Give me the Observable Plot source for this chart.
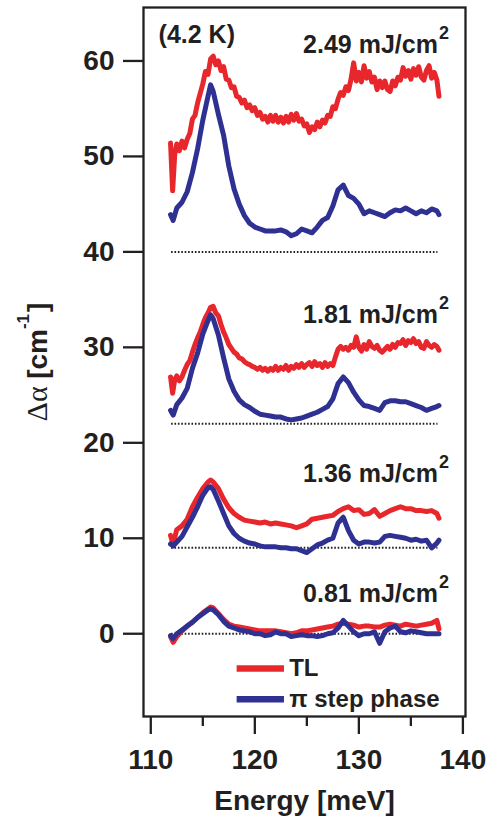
<!DOCTYPE html>
<html><head><meta charset="utf-8">
<script src="https://cdn.jsdelivr.net/npm/d3@7"></script>
<script src="https://cdn.jsdelivr.net/npm/@observablehq/plot@0.6"></script>
<style>body{margin:0;background:#fff} svg{display:block}</style>
</head><body><div id="chart"></div>
<script>
// Energy grid (meV) for the smoother curves
const energy = [111.9, 112.15,
  112.5, 113, 113.5, 114, 114.5, 115, 115.5, 115.75, 116,
  116.5, 117, 117.5, 118,  118.5, 119, 119.5, 120,  120.5, 121, 121.5, 122,
  122.5, 123, 123.5, 124,  124.5, 125, 125.5, 126,  126.5, 127, 127.5, 128,
  128.5, 129, 129.5, 130,  130.5, 131, 131.5, 132,  132.5, 133, 133.5, 134,
  134.5, 135, 135.5, 136,  136.5, 137, 137.5,  137.7];

// Finer energy grid (meV) for the noisy TL curves
const energyFine = [111.9, 112.1, 112.3,
  112.5, 112.75,
  113, 113.25, 113.5, 113.75,  114, 114.25, 114.5, 114.75,
  115, 115.25, 115.5, 115.75,  116, 116.25, 116.5, 116.75,
  117, 117.25, 117.5, 117.75,  118, 118.25, 118.5, 118.75,
  119, 119.25, 119.5, 119.75,  120, 120.25, 120.5, 120.75,
  121, 121.25, 121.5, 121.75,  122, 122.25, 122.5, 122.75,
  123, 123.25, 123.5, 123.75,  124, 124.25, 124.5, 124.75,
  125, 125.25, 125.5, 125.75,  126, 126.25, 126.5, 126.75,
  127, 127.25, 127.5, 127.75,  128, 128.25, 128.5, 128.75,
  129, 129.25, 129.5, 129.75,  130, 130.25, 130.5, 130.75,
  131, 131.25, 131.5, 131.75,  132, 132.25, 132.5, 132.75,
  133, 133.25, 133.5, 133.75,  134, 134.25, 134.5, 134.75,
  135, 135.25, 135.5, 135.75,  136, 136.25, 136.5, 136.75,
  137, 137.25, 137.5,
  137.7];

// 2.49 mJ/cm2 (offset +40) — TL on the fine grid
const tl249 = [51.4, 46.4, 50.2,
  51.3, 50.6,
  51.6, 50.9, 51.8, 52.4,  53.9, 54.3, 55.6, 56.6,
  57.6, 58.9, 58.6, 60.2,  60.5, 59.6, 60.0, 59.0,
  59.4, 58.1, 58.0, 57.2,  57.3, 56.3, 56.2, 55.6,
  55.9, 55.1, 55.4, 54.8,  55.1, 54.3, 54.6, 53.9,
  54.2, 53.6, 54.3, 53.7,  54.3, 53.6, 54.1, 53.5,
  54.2, 53.6, 54.4, 53.8,  54.5, 53.7, 53.9, 53.2,
  53.4, 52.5, 53.1, 52.8,  53.6, 53.1, 53.8, 53.5,
  54.3, 54.2, 55.2, 55.0,  56.0, 56.7, 56.4, 57.3,
  56.9, 58.1, 59.8, 57.9,  58.8, 57.8, 59.5, 58.2,
  58.9, 57.8, 58.3, 57.0,  57.9, 57.2, 57.9, 57.0,
  56.8, 57.9, 57.4, 58.3,  58.0, 59.3, 58.4, 59.0,
  58.1, 59.2, 58.5, 59.4,  58.3, 58.0, 59.0, 59.5,
  58.2, 58.8, 58.0,
  56.3];
const pi249 = [43.9, 43.3,
  44.6, 45.2, 46.3, 48.3, 50.8, 53.8, 56.3, 57.5, 56.8,
  54.4, 52.2, 49.0, 46.6,  45.0, 43.8, 43.0, 42.6,  42.4, 42.2, 42.2, 42.2,
  42.3, 42.1, 41.7, 41.9,  42.4, 42.2, 42.0, 42.6,  43.3, 43.6, 44.8, 46.5,
  47.0, 45.9, 45.6, 45.0,  44.0, 44.3, 44.1, 43.9,  43.7, 44.1, 44.4, 44.3,
  44.6, 44.3, 44.0, 44.3,  44.1, 44.5, 44.3,  43.9];

// 1.81 mJ/cm2 (offset +22) — TL on the fine grid
const tl181 = [26.9, 25.2, 26.6,
  27.0, 26.5,
  26.9, 27.6, 28.2, 28.6,  29.5, 30.3, 31.0, 31.6,
  32.4, 33.1, 33.6, 34.2,  34.3, 33.6, 33.3, 32.4,
  31.6, 31.0, 30.3, 29.9,  29.5, 29.3, 28.9, 28.8,
  28.5, 28.3, 28.2, 28.0,  27.9, 27.7, 27.9, 27.6,
  27.8, 27.5, 27.8, 27.6,  28.0, 27.6, 27.9, 27.7,
  28.1, 27.6, 28.0, 27.8,  28.2, 27.9, 28.3, 27.9,
  28.2, 28.4, 28.0, 28.5,  28.1, 28.3, 27.9, 28.4,
  28.0, 28.3, 28.1, 29.0,  29.8, 30.1, 29.8, 30.0,
  29.7, 30.2, 30.0, 31.1,  30.0, 29.6, 30.3, 29.8,
  30.6, 30.1, 29.9, 30.2,  29.7, 29.5, 29.8, 30.1,
  29.8, 30.3, 30.0, 30.5,  30.4, 30.8, 30.2, 30.7,
  30.5, 30.9, 30.4, 30.6,  30.0, 29.9, 30.6, 30.2,
  30.0, 30.3, 30.1,
  29.7];
const pi181 = [23.4, 22.9,
  24.0, 24.7, 25.7, 27.8, 29.4, 31.4, 32.8, 33.4, 33.0,
  31.3, 28.9, 26.7, 25.4,  24.5, 24.0, 23.7, 23.3,  23.0, 22.9, 22.8, 22.7,
  22.7, 22.5, 22.4, 22.5,  22.6, 22.8, 23.0, 23.2,  23.5, 23.8, 24.6, 26.2,
  26.9, 26.3, 25.3, 24.5,  23.9, 23.8, 23.6, 23.4,  24.2, 24.4, 24.4, 24.3,
  24.3, 24.1, 23.9, 23.7,  23.4, 23.6, 23.8,  23.9];

// 1.36 mJ/cm2 (offset +9)
const tl136 = [10.3, 9.4,
  10.9, 11.3, 12.0, 13.3, 14.3, 15.2, 15.9, 16.1, 15.9,
  15.2, 14.1, 13.2, 12.6,  12.2, 11.9, 11.8, 11.7,  11.6, 11.7, 11.5, 11.6,
  11.5, 11.4, 11.3, 11.1,  11.3, 11.5, 12.0, 12.1,  12.2, 12.3, 12.4, 12.8,
  13.1, 13.3, 12.9, 13.0,  12.5, 12.6, 13.0, 12.3,  12.6, 12.9, 13.1, 13.3,
  13.1, 13.1, 12.9, 12.9,  12.8, 12.9, 12.6,  12.1];
const pi136 = [9.4, 9.2,
  9.6, 10.2, 11.2, 12.2, 13.3, 14.5, 15.3, 15.4, 15.1,
  13.9, 12.6, 11.3, 10.5,  10.0, 9.7, 9.5, 9.4,  9.2, 9.1, 9.1, 9.1,
  9.0, 9.0, 8.9, 8.9,  8.7, 8.5, 8.9, 9.3,  9.5, 9.8, 10.0, 11.6,
  12.2, 10.8, 9.8, 9.4,  9.6, 9.6, 9.5, 9.6,  10.2, 10.3, 10.2, 10.1,
  10.0, 9.8, 9.9, 9.7,  9.8, 9.0, 9.5,  9.8];

// 0.81 mJ/cm2 (no offset)
const tl081 = [-0.3, -0.9,
  -0.3, 0.3, 0.8, 1.2, 1.7, 2.2, 2.6, 2.8, 2.7,
  2.1, 1.5, 1.0, 0.8,  0.7, 0.6, 0.5, 0.4,  0.3, 0.3, 0.3, 0.3,
  0.2, 0.1, 0.0, 0.1,  0.3, 0.3, 0.4, 0.5,  0.6, 0.7, 0.8, 1.0,
  1.1, 1.0, 0.9, 0.7,  0.8, 0.8, 0.7, 0.7,  0.9, 1.0, 0.9, 0.8,
  1.0, 0.9, 0.8, 0.9,  1.0, 1.1, 1.4,  0.5];
const pi081 = [-0.2, -0.5,
  0.0, 0.4, 0.8, 1.2, 1.7, 2.1, 2.5, 2.6, 2.5,
  2.0, 1.3, 0.8, 0.6,  0.4, 0.3, 0.2, 0.0,  0.0, -0.2, -0.1, 0.2,
  0.0, 0.0, -0.3, -0.2,  -0.1, -0.2, -0.2, -0.3,  -0.2, 0.0, 0.1, 0.6,
  1.4, 0.8, 0.2, -0.2,  0.0, 0.0, 0.2, -1.0,  0.2, 0.6, 0.8, 0.2,
  0.1, 0.3, 0.2, 0.1,  0.0, 0.0, 0.0,  0.0];

// Zero lines of the offset curves
const baselineLevels = [40, 22, 9, 0];
const baselineFrom = 112, baselineTo = 137.6;

// Annotations
const fluenceLabels = ["2.49 mJ/cm", "1.81 mJ/cm", "1.36 mJ/cm", "0.81 mJ/cm"];
const fluenceLevels = [60.8, 32.6, 15.9, 3.3];
const fluenceEnergy = 137.6;
const tempLabel = "(4.2 K)";
const tempAt = [110.75, 61.9];

// Legend
const legendNames = ["TL", "π step phase"];
const legendLevels = [-3.64, -6.85];
const legendFrom = 118.3, legendTo = 122.85, legendTextAt = 123.3;

// Axes
const xMajorTicks = [110, 120, 130, 140];
const xMinorTicks = [115, 125, 135];
const yTicks = [0, 10, 20, 30, 40, 50, 60];

const RED = "#e8272c", BLUE = "#2e3192", INK = "#231f20";
const FONT = "'Liberation Sans', Arial, Helvetica, sans-serif";

const tlSets = [[energyFine, tl249], [energyFine, tl181], [energy, tl136], [energy, tl081]];
const piSets = [[energy, pi249], [energy, pi181], [energy, pi136], [energy, pi081]];
const toRows = sets => sets.flatMap(([xs, vs], k) => xs.map((e, i) => ({e, v: vs[i], panel: k})));
const tlRows = toRows(tlSets), piRows = toRows(piSets);

const chart = Plot.plot({
  width: 489, height: 819,
  marginLeft: 143, marginRight: 24, marginTop: 7, marginBottom: 103,
  style: {fontFamily: FONT, fontWeight: "bold", color: INK, background: "#fff"},
  x: {domain: [109.3, 140.25]},
  y: {domain: [-8.67, 65.6]},
  marks: [
    Plot.ruleY(baselineLevels, {x1: baselineFrom, x2: baselineTo, stroke: INK, strokeWidth: 2, strokeDasharray: "1.6,1.8"}),
    Plot.line(tlRows, {x: "e", y: "v", z: "panel", stroke: RED, strokeWidth: 5, strokeLinejoin: "round"}),
    Plot.line(piRows, {x: "e", y: "v", z: "panel", stroke: BLUE, strokeWidth: 5, strokeLinejoin: "round"}),
    Plot.text(fluenceLabels, {x: fluenceEnergy, y: (d, i) => fluenceLevels[i], text: d => d, textAnchor: "end", lineAnchor: "bottom", fontSize: 25, fontWeight: "bold", fill: INK}),
    Plot.text(fluenceLabels, {x: fluenceEnergy, y: (d, i) => fluenceLevels[i], text: () => "2", textAnchor: "start", lineAnchor: "bottom", dx: 1, dy: -14, fontSize: 18, fontWeight: "bold", fill: INK}),
    Plot.text([tempLabel], {x: tempAt[0], y: tempAt[1], text: d => d, textAnchor: "start", lineAnchor: "bottom", fontSize: 25, fontWeight: "bold", fill: INK}),
    Plot.ruleY([legendLevels[0]], {x1: legendFrom, x2: legendTo, stroke: RED, strokeWidth: 6.5}),
    Plot.ruleY([legendLevels[1]], {x1: legendFrom, x2: legendTo, stroke: BLUE, strokeWidth: 6.5}),
    Plot.text(legendNames, {x: legendTextAt, y: (d, i) => legendLevels[i], text: d => d, textAnchor: "start", lineAnchor: "middle", fontSize: 24, fontWeight: "bold", fill: INK}),
    Plot.frame({stroke: INK, strokeWidth: 2.3}),
    Plot.axisY({ticks: yTicks, tickSize: 20, tickPadding: 9, fontSize: 28, fontWeight: "bold", strokeWidth: 2.3, label: null, fill: INK}),
    Plot.axisX({ticks: xMajorTicks, tickSize: 18, tickPadding: 15, fontSize: 28, fontWeight: "bold", strokeWidth: 2.3, label: null, fill: INK}),
    Plot.axisX({ticks: xMinorTicks, tickSize: 10, tickFormat: () => "", strokeWidth: 2.3, label: null}),
    Plot.text(["Energy [meV]"], {frameAnchor: "bottom", dy: 74, lineAnchor: "top", text: d => d, fontSize: 28, fontWeight: "bold", fill: INK})
  ]
});
document.getElementById("chart").appendChild(chart);

// y-axis title with mixed styles (Δα regular, [cm⁻¹] bold)
const t = d3.select(chart).append("text")
  .attr("transform", "translate(47,362) rotate(-90)")
  .attr("text-anchor", "middle")
  .attr("font-family", FONT)
  .attr("font-size", 28)
  .attr("fill", INK);
t.append("tspan").attr("font-weight", "normal").attr("font-family", "'Liberation Serif', 'DejaVu Serif', serif").attr("font-size", 30).text("Δα ");
t.append("tspan").attr("font-weight", "bold").text("[cm");
t.append("tspan").attr("font-weight", "bold").attr("font-size", 17).attr("dy", -18).text("-1");
t.append("tspan").attr("font-weight", "bold").attr("dy", 18).attr("dx", 2).text("]");
</script>
</body></html>
